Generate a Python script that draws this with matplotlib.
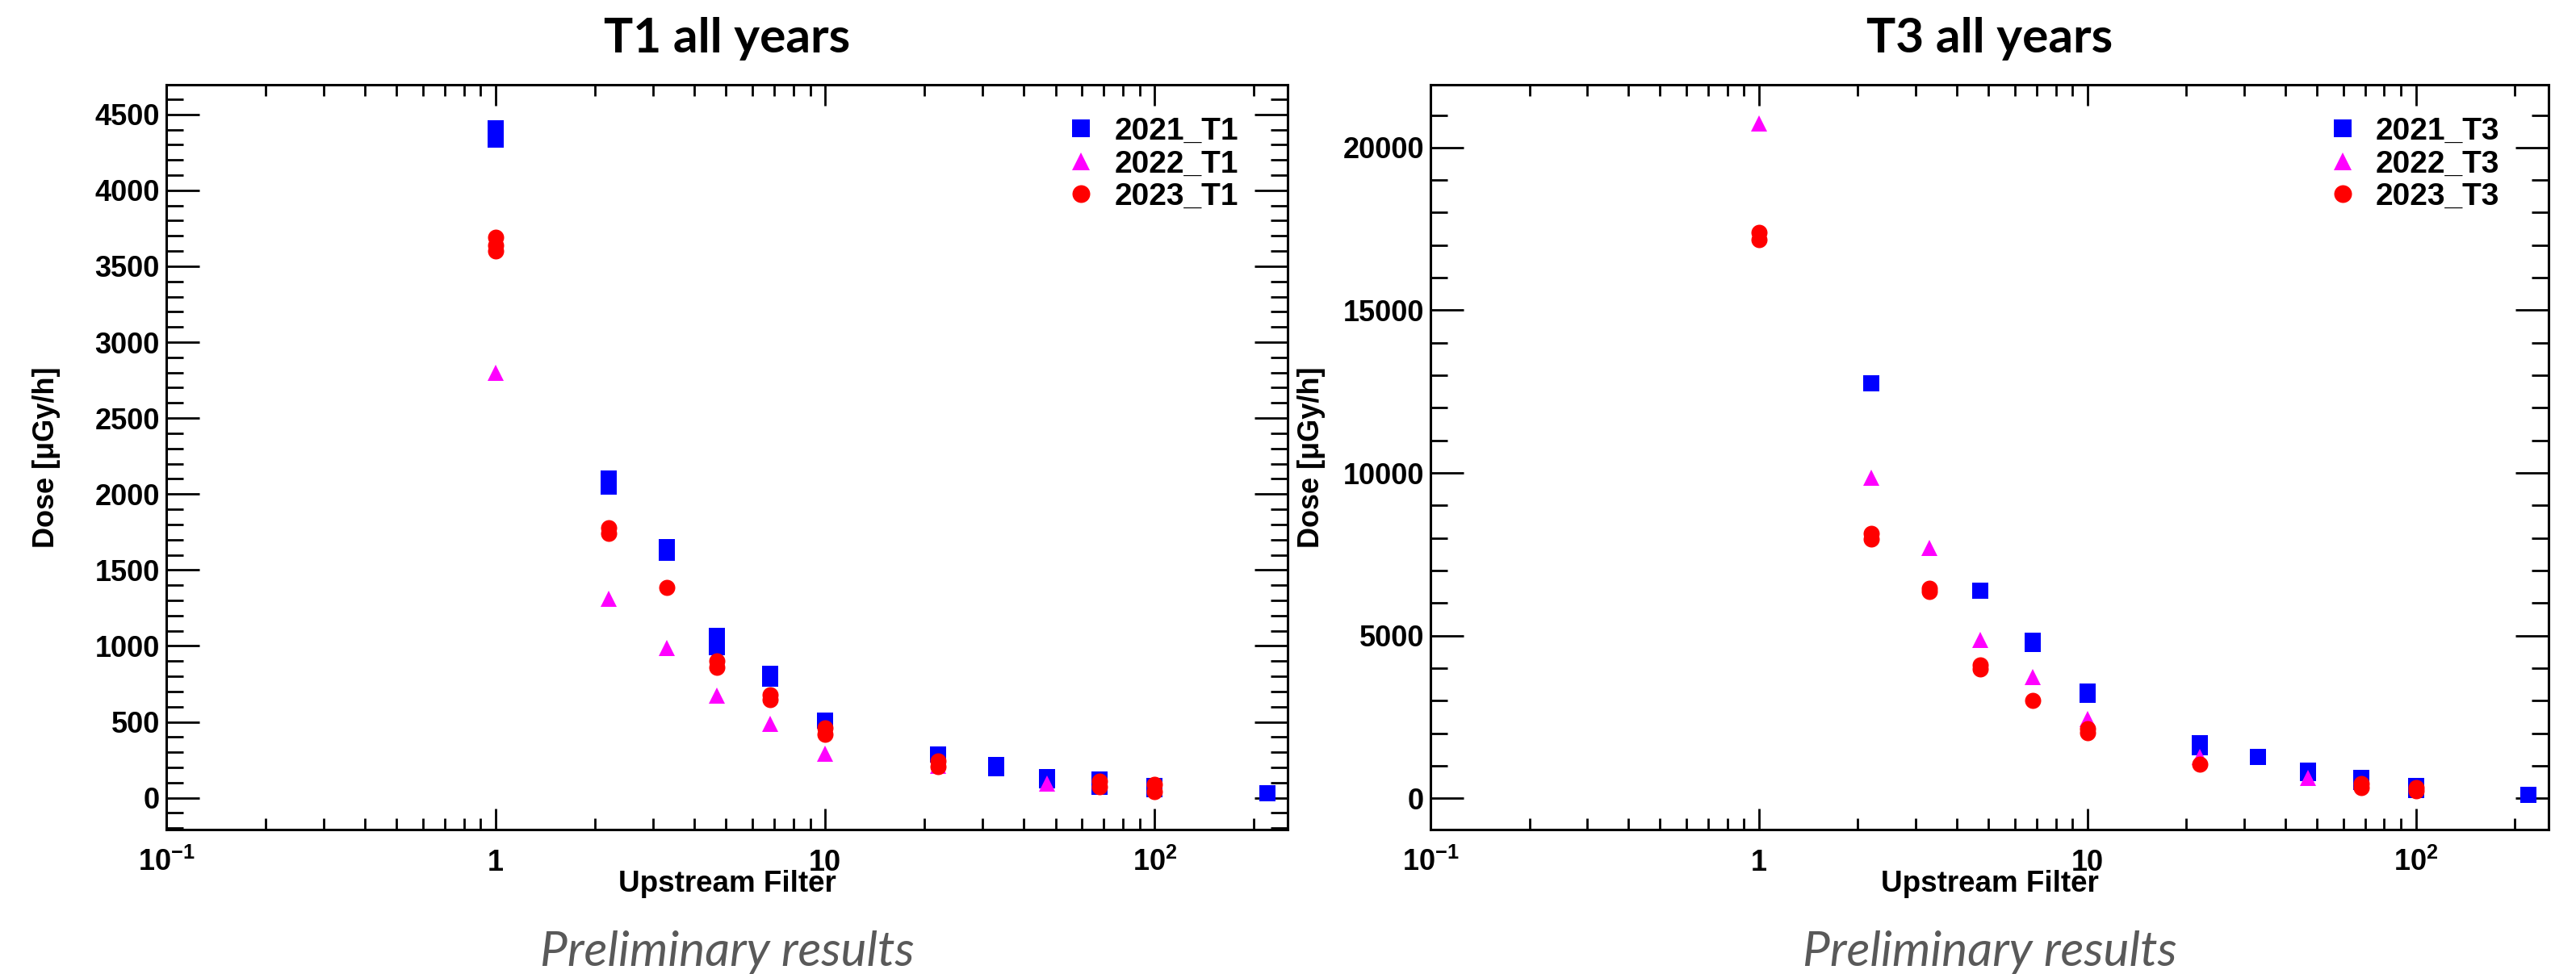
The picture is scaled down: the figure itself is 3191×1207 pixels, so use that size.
import matplotlib
matplotlib.use("Agg")
import matplotlib.pyplot as plt
from matplotlib.ticker import LogLocator, MultipleLocator, NullFormatter

plt.rcParams["font.family"] = ["Liberation Sans", "DejaVu Sans"]
plt.rcParams["font.weight"] = "bold"
plt.rcParams["axes.labelweight"] = "bold"
plt.rcParams["mathtext.fontset"] = "custom"
plt.rcParams["mathtext.rm"] = "Liberation Sans:bold"
plt.rcParams["mathtext.bf"] = "Liberation Sans:bold"
plt.rcParams["mathtext.it"] = "Liberation Sans:bold"

# --- data: upstream filter vs dose, repeated readings share an x ----------
t1_2021_x = [1, 1, 1, 2.2, 2.2, 3.3, 3.3, 4.7, 4.7, 4.7, 6.8, 6.8, 10, 22,
             33, 33, 47, 47, 68, 68, 100, 100, 220]
t1_2021_y = [4410, 4370, 4335, 2100, 2050, 1650, 1615, 1065, 1030, 990, 815,
             783, 508, 285, 215, 195, 135, 115, 118, 72, 80, 55, 30]
t1_2022_x = [1, 2.2, 3.3, 4.7, 6.8, 10, 22, 47]
t1_2022_y = [2800, 1310, 986, 673, 487, 290, 210, 95]
t1_2023_x = [1, 1, 1, 2.2, 2.2, 3.3, 4.7, 4.7, 6.8, 6.8, 10, 10, 22, 22,
             68, 68, 100, 100]
t1_2023_y = [3690, 3640, 3600, 1780, 1740, 1385, 900, 860, 680, 645, 460, 420,
             243, 205, 108, 70, 86, 42]

t3_2021_x = [2.2, 4.7, 6.8, 6.8, 10, 10, 22, 22, 33, 47, 47, 68, 68, 100, 100, 220]
t3_2021_y = [12750, 6380, 4840, 4750, 3270, 3180, 1690, 1560, 1280, 855, 780,
             630, 515, 385, 265, 115]
t3_2022_x = [1, 2.2, 3.3, 4.7, 6.8, 10, 22, 47]
t3_2022_y = [20750, 9850, 7700, 4870, 3715, 2435, 1280, 620]
t3_2023_x = [1, 1, 2.2, 2.2, 3.3, 3.3, 4.7, 4.7, 6.8, 10, 10, 22, 68, 68, 100, 100]
t3_2023_y = [17400, 17170, 8140, 7975, 6460, 6360, 4105, 3965, 3005, 2140, 2015,
             1060, 460, 335, 325, 230]

years = ["2021", "2022", "2023"]
x_ticks = [0.1, 1, 10, 100]
x_tick_labels = ["$10^{-1}$", "1", "10", "$10^{2}$"]

MARKERS = ["s", "^", "o"]
COLORS = ["#0000ff", "#ff00ff", "#ff0000"]
DPI = 100
W, H = 3191, 1207


def px(v):
    """pixels -> points"""
    return v * 72 / DPI


def draw_panel(ax, series, tag, ylim, ymajor, yminor, title):
    for (xs, ys), year, m, c in zip(series, years, MARKERS, COLORS):
        ax.plot(xs, ys, ls="none", marker=m, color=c, ms=px(20), mew=0,
                label=f"{year}_{tag}")

    ax.set_xscale("log")
    ax.set_xlim(0.1, 253)
    ax.set_ylim(*ylim)
    ax.set_xticks(x_ticks, labels=x_tick_labels)
    ax.xaxis.set_minor_locator(LogLocator(base=10, subs=range(2, 10)))
    ax.xaxis.set_minor_formatter(NullFormatter())
    ax.yaxis.set_major_locator(MultipleLocator(ymajor))
    ax.yaxis.set_minor_locator(MultipleLocator(yminor))

    ax.tick_params(which="both", direction="in", top=True, right=True,
                   width=2, labelsize=26)
    ax.tick_params(axis="x", which="major", length=px(26), pad=px(51))
    ax.tick_params(axis="x", which="minor", length=px(13.5))
    ax.tick_params(axis="y", which="major", length=px(41), pad=px(8))
    ax.tick_params(axis="y", which="minor", length=px(21))
    for lbl in ax.get_xticklabels():
        lbl.set_va("baseline")
    for sp in ax.spines.values():
        sp.set_linewidth(2.2)

    ax.set_xlabel("Upstream Filter", fontsize=26.5, fontweight="bold")
    ax.xaxis.set_label_coords(0.5, -77 / 923)
    ax.xaxis.label.set_va("baseline")
    ax.set_ylabel("Dose [μGy/h]", fontsize=26, fontweight="bold")
    ax.yaxis.set_label_coords(-0.094, 0.5)

    ax.legend(loc="upper left", bbox_to_anchor=(0.802, 0.957), frameon=False,
              fontsize=28, handlelength=1.0, handletextpad=0.55,
              labelspacing=0.12, borderpad=0, borderaxespad=0, markerscale=1.1)

    box = ax.get_position()
    cx = box.x0 + box.width / 2
    fig.text(cx, 1 - 65 / H, title, ha="center", va="baseline",
             family=["Lato", "DejaVu Sans"], weight="bold", fontsize=43.5)
    fig.text(cx, 1 - 1197 / H, "Preliminary results", ha="center",
             va="baseline", family=["Lato", "DejaVu Sans"], style="italic",
             weight="normal", fontsize=43.5, color="#595959")


fig = plt.figure(figsize=(W / DPI, H / DPI), dpi=DPI)
ax1 = fig.add_axes([206 / W, 1 - 1028 / H, 1389 / W, 923 / H])
ax2 = fig.add_axes([1772 / W, 1 - 1028 / H, 1385 / W, 923 / H])

draw_panel(ax1, [(t1_2021_x, t1_2021_y), (t1_2022_x, t1_2022_y),
                 (t1_2023_x, t1_2023_y)],
           "T1", (-209, 4695), 500, 100, "T1 all years")
draw_panel(ax2, [(t3_2021_x, t3_2021_y), (t3_2022_x, t3_2022_y),
                 (t3_2023_x, t3_2023_y)],
           "T3", (-960, 21930), 5000, 1000, "T3 all years")

fig.savefig("out.png", dpi=DPI, facecolor="white")
